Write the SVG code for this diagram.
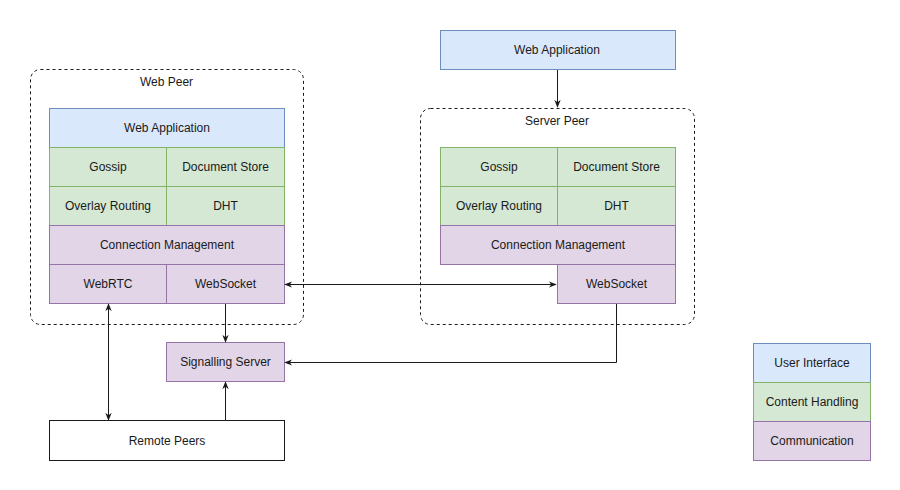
<svg xmlns="http://www.w3.org/2000/svg" width="900" height="490" viewBox="0 0 900 490">
<style>
text{font-family:"Liberation Sans",Arial,Helvetica,sans-serif;font-size:12px;fill:#1a1a1a;text-anchor:middle;dominant-baseline:central}
.ui{fill:#dae8fc;stroke:#6c8ebf;stroke-width:1}
.ch{fill:#d5e8d4;stroke:#82b366;stroke-width:1}
.cm{fill:#e1d5e7;stroke:#9673a6;stroke-width:1}
.plain{fill:#ffffff;stroke:#1a1a1a;stroke-width:1}
.grp{fill:none;stroke:#1a1a1a;stroke-width:1;stroke-dasharray:3 3}
.edge{fill:none;stroke:#1a1a1a;stroke-width:1}
</style>
<defs>
<marker id="ah" viewBox="0 0 10 10" refX="9" refY="5" markerWidth="8" markerHeight="8" orient="auto-start-reverse" markerUnits="userSpaceOnUse">
<path d="M0,1 L10,5 L0,9 L3,5 Z" fill="#1a1a1a"/>
</marker>
</defs>
<rect width="900" height="490" fill="#ffffff"/>

<g id="web-peer">
<rect class="grp" x="30.5" y="69.5" width="273" height="255" rx="10"/>
<text x="166.5" y="82">Web Peer</text>
<g id="wp-webapp"><rect class="ui" x="49.5" y="108.5" width="235" height="39"/><text x="167" y="128">Web Application</text></g>
<g id="wp-gossip"><rect class="ch" x="49.5" y="147.5" width="117" height="39"/><text x="108" y="167">Gossip</text></g>
<g id="wp-docstore"><rect class="ch" x="166.5" y="147.5" width="118" height="39"/><text x="225.5" y="167">Document Store</text></g>
<g id="wp-overlay"><rect class="ch" x="49.5" y="186.5" width="117" height="39"/><text x="108" y="206">Overlay Routing</text></g>
<g id="wp-dht"><rect class="ch" x="166.5" y="186.5" width="118" height="39"/><text x="225.5" y="206">DHT</text></g>
<g id="wp-connmgmt"><rect class="cm" x="49.5" y="225.5" width="235" height="39"/><text x="167" y="245">Connection Management</text></g>
<g id="wp-webrtc"><rect class="cm" x="49.5" y="264.5" width="117" height="39"/><text x="108" y="284">WebRTC</text></g>
<g id="wp-websocket"><rect class="cm" x="166.5" y="264.5" width="118" height="39"/><text x="225.5" y="284">WebSocket</text></g>
</g>

<g id="server-webapp"><rect class="ui" x="440.5" y="30.5" width="235" height="39"/><text x="557" y="50">Web Application</text></g>

<g id="server-peer">
<rect class="grp" x="420.5" y="108.5" width="274" height="216" rx="10"/>
<text x="557" y="121">Server Peer</text>
<g id="sp-gossip"><rect class="ch" x="440.5" y="147.5" width="117" height="39"/><text x="499" y="167">Gossip</text></g>
<g id="sp-docstore"><rect class="ch" x="557.5" y="147.5" width="118" height="39"/><text x="616.5" y="167">Document Store</text></g>
<g id="sp-overlay"><rect class="ch" x="440.5" y="186.5" width="117" height="39"/><text x="499" y="206">Overlay Routing</text></g>
<g id="sp-dht"><rect class="ch" x="557.5" y="186.5" width="118" height="39"/><text x="616.5" y="206">DHT</text></g>
<g id="sp-connmgmt"><rect class="cm" x="440.5" y="225.5" width="235" height="39"/><text x="558" y="245">Connection Management</text></g>
<g id="sp-websocket"><rect class="cm" x="557.5" y="264.5" width="118" height="39"/><text x="616.5" y="284">WebSocket</text></g>
</g>

<g id="signalling-server"><rect class="cm" x="166.5" y="342.5" width="118" height="39"/><text x="225.5" y="362">Signalling Server</text></g>
<g id="remote-peers"><rect class="plain" x="49.5" y="420.5" width="235" height="40"/><text x="167" y="440.5">Remote Peers</text></g>

<g id="legend">
<g id="legend-ui"><rect class="ui" x="753.5" y="343.5" width="117" height="39"/><text x="812" y="363">User Interface</text></g>
<g id="legend-ch"><rect class="ch" x="753.5" y="382.5" width="117" height="39"/><text x="812" y="402">Content Handling</text></g>
<g id="legend-cm"><rect class="cm" x="753.5" y="421.5" width="117" height="39"/><text x="812" y="441">Communication</text></g>
</g>

<g id="connectors">
<path class="edge" d="M557.5,70 L557.5,107" marker-end="url(#ah)"/>
<path class="edge" d="M285,284.5 L556,284.5" marker-start="url(#ah)" marker-end="url(#ah)"/>
<path class="edge" d="M108.5,304 L108.5,420" marker-start="url(#ah)" marker-end="url(#ah)"/>
<path class="edge" d="M225.5,304 L225.5,342" marker-end="url(#ah)"/>
<path class="edge" d="M225.5,420 L225.5,382" marker-end="url(#ah)"/>
<path class="edge" d="M616.5,304 L616.5,362.5 L285,362.5" marker-end="url(#ah)"/>
</g>
</svg>
